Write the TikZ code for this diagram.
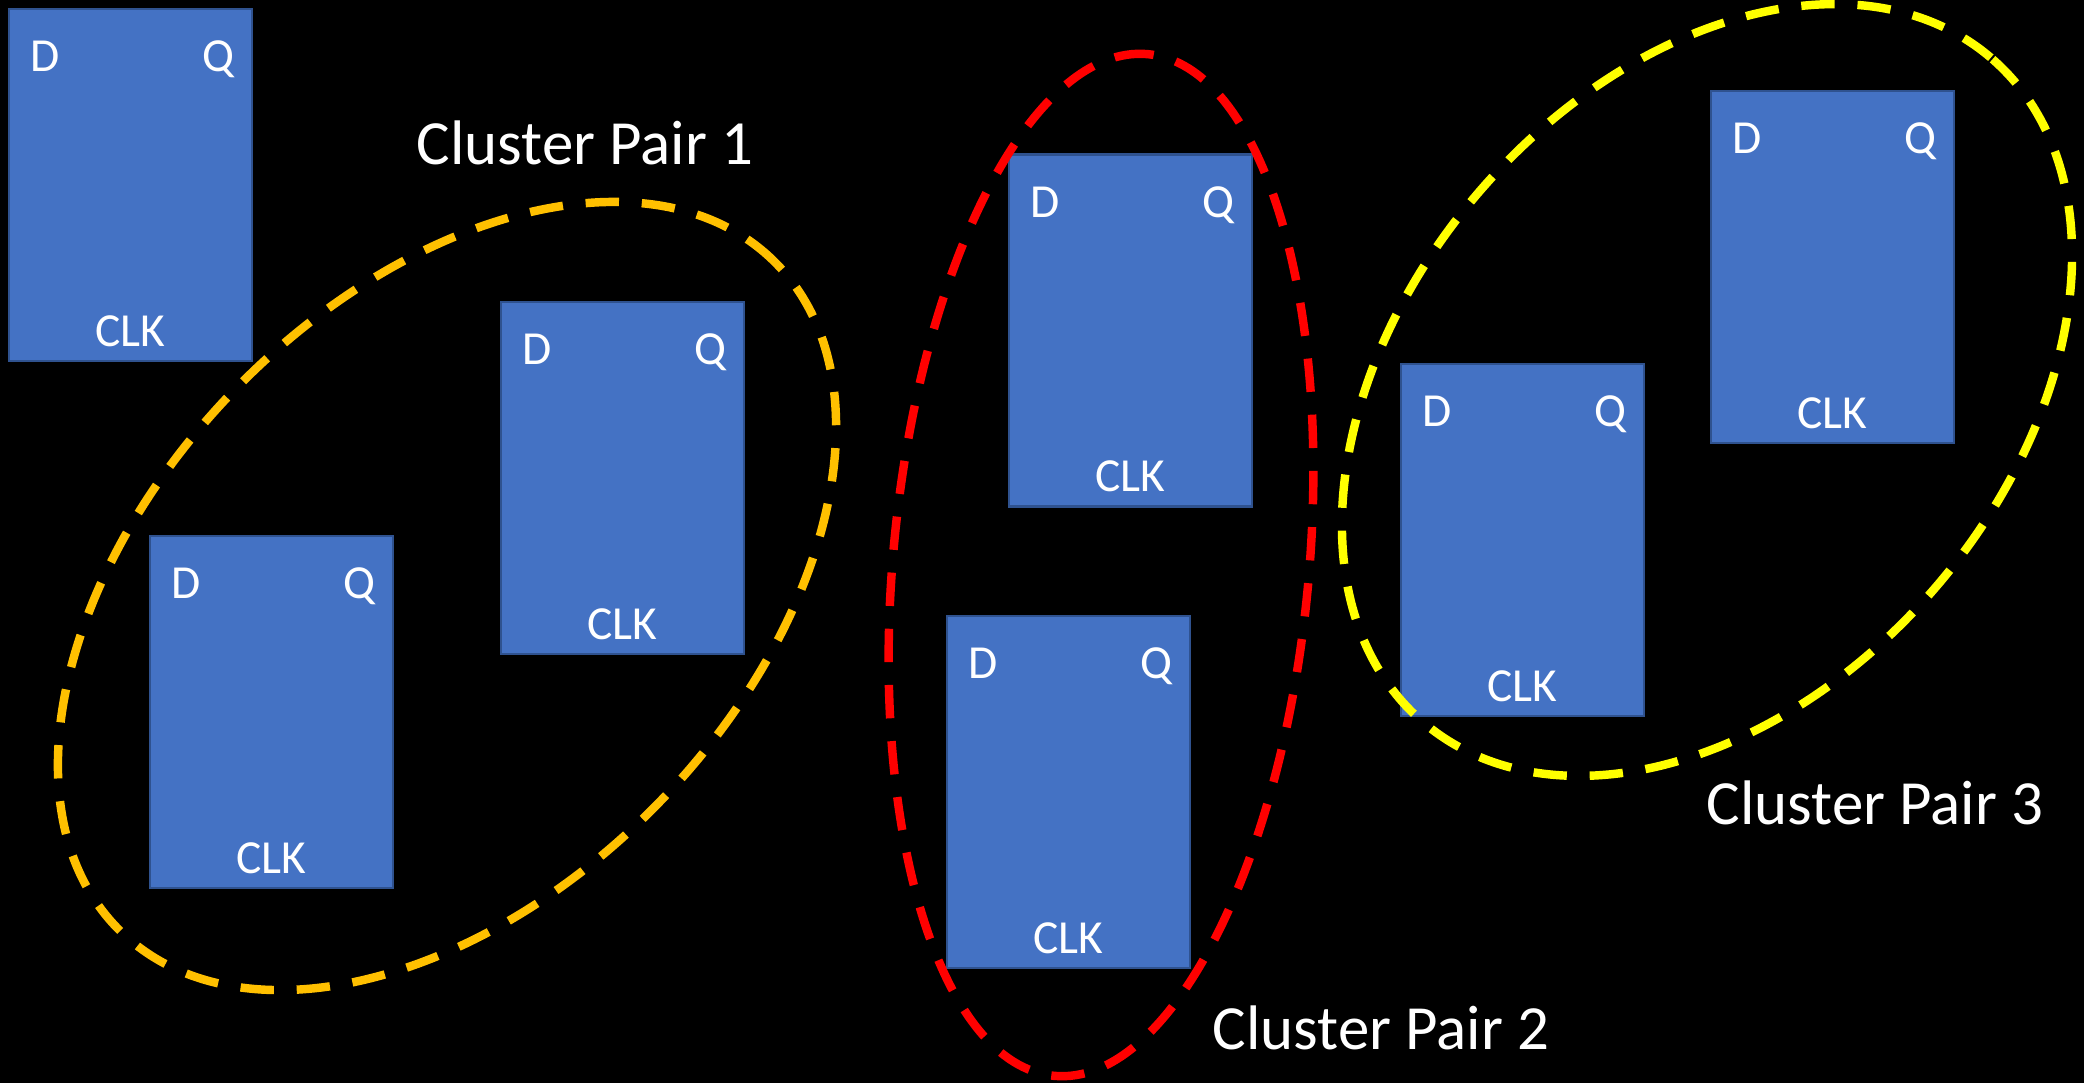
\documentclass[tikz,border=0pt]{standalone}
\usepackage{fontspec}
\setmainfont{Carlito}
\usepackage{xcolor}
\definecolor{ffblue}{HTML}{4472C4}
\definecolor{ffedge}{HTML}{2F528F}
\definecolor{pairorange}{HTML}{FFC000}
\definecolor{pairred}{HTML}{FF0000}
\definecolor{pairyellow}{HTML}{FFFF00}
\tikzset{flop/.style={draw=ffedge, line width=0.8pt, fill=ffblue,
   minimum width=2.43cm, minimum height=3.52cm, inner sep=0pt},
 pin/.style={text=white, font=\fontsize{13.5}{16}\selectfont, inner sep=0pt},
 ring/.style={line width=2.4pt, dash pattern=on 9.5pt off 6.5pt},
 tag/.style={text=white, font=\fontsize{17.9}{21}\selectfont,
   inner sep=0pt, anchor=base west},
 }

\begin{document}
\begin{tikzpicture}
        \fill[black] (0,0) rectangle (20.84,-10.83);
        \useasboundingbox (0,0) rectangle (20.84,-10.83);
        % the flip-flops
        \foreach \n/\p in {1/{1.305,-1.85}, 2/{6.225,-4.78}, 3/{2.715,-7.12},
                4/{11.305,-3.305}, 5/{10.685,-7.92}, 6/{15.225,-5.40},
                7/{18.325,-2.67}} {
            \node[flop] (ff\n) at (\p) {};
            \node[pin, anchor=base west] (ff\n-d) at ([shift={(0.22,-0.64)}]ff\n.north west) {D};
            \node[pin, anchor=base east] (ff\n-q) at ([shift={(-0.18,-0.64)}]ff\n.north east) {Q};
            \node[pin, anchor=base] (ff\n-clk) at ([shift={(0,0.16)}]ff\n.south) {CLK};
        }
        % the three pairs
        \draw[ring, pairorange, rotate around={45.85:(4.47,-5.96)}]
            (4.47,-5.96) ellipse [x radius=4.68, y radius=2.96];
        \draw[ring, pairred, rotate around={84.77:(11.01,-5.65)}]
            (11.01,-5.65) ellipse [x radius=5.13, y radius=2.08];
        \draw[ring, pairyellow, rotate around={49.5:(17.07,-3.90)}]
            (17.07,-3.90) ellipse [x radius=4.37, y radius=3.02];
        \node[tag] (pair1) at (4.16,-1.65) {Cluster Pair 1};
        \node[tag] (pair2) at (12.12,-10.49) {Cluster Pair 2};
        \node[tag] (pair3) at (17.06,-8.245) {Cluster Pair 3};
    \end{tikzpicture}
\end{document}
